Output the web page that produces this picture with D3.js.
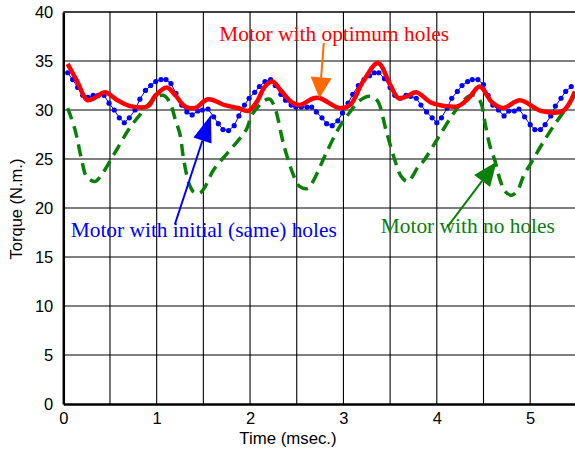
<!DOCTYPE html>
<html>
<head>
<meta charset="utf-8">
<script src="https://cdn.jsdelivr.net/npm/d3@7"></script>
<style>
  body { margin: 0; background: #fff; }
  .tick text { font-family: "Liberation Sans", Arial, sans-serif; }
  .note { font-family: "Liberation Serif", "Times New Roman", serif; font-size: 21.4px; }
</style>
</head>
<body>
<div id="chart"></div>
<script>
// values (time in msec, torque in N.m.)
const blueTime = [0.047,0.10,0.154,0.208,0.264,0.321,0.375,0.436,0.49,0.546,0.60,0.653,0.707,0.768,0.82,0.88,0.936,0.99,1.046,1.10,1.153,1.207,1.268,1.324,1.38,1.44,1.49,1.55,1.61,1.66,1.71,1.77,1.83,1.88,1.94,1.99,2.05,2.10,2.16,2.22,2.27,2.33,2.38,2.44,2.49,2.55,2.61,2.66,2.71,2.77,2.82,2.88,2.94,2.99,3.05,3.10,3.16,3.22,3.28,3.33,3.38,3.44,3.50,3.55,3.61,3.67,3.72,3.78,3.83,3.89,3.95,4.00,4.05,4.11,4.16,4.22,4.27,4.33,4.38,4.44,4.50,4.55,4.60,4.66,4.72,4.77,4.83,4.88,4.94,5.00,5.05,5.11,5.16,5.22,5.27,5.33,5.38,5.44];
const blueTorque = [33.8,33.1,32.3,31.5,31.3,31.5,31.5,31.5,30.7,30.0,29.2,28.7,29.2,30.0,31.1,32.0,32.5,32.9,33.1,33.1,32.7,31.7,30.5,29.8,29.5,29.9,30.0,30.1,29.3,28.6,28.0,27.9,28.4,29.4,30.5,31.2,31.8,32.4,32.9,33.1,32.5,31.6,31.0,30.5,30.3,30.3,30.3,30.3,29.8,29.2,28.6,28.4,28.9,29.7,30.7,31.6,32.5,33.1,33.5,33.8,33.8,33.2,32.3,31.5,31.2,31.5,31.4,31.2,30.5,29.8,29.2,28.7,29.2,30.2,31.2,31.9,32.5,32.9,33.1,33.1,32.6,31.5,30.5,30.0,29.4,29.9,29.9,30.1,29.3,28.5,28.0,28.0,28.5,29.4,30.4,31.2,31.9,32.4];

const redTime = [0.047,0.15,0.257,0.35,0.446,0.58,0.714,0.91,0.98,1.107,1.2,1.30,1.41,1.55,1.73,1.87,1.98,2.07,2.16,2.24,2.33,2.445,2.53,2.68,2.75,2.96,3.07,3.21,3.37,3.50,3.59,3.68,3.78,3.93,4.03,4.23,4.34,4.46,4.59,4.71,4.89,5.12,5.35,5.48];
const redTorque = [34.7,32.9,31.0,31.3,31.8,31.0,30.4,30.4,31.4,32.3,31.5,30.4,30.2,31.1,30.5,30.2,29.9,30.8,32.4,32.9,32.0,30.8,30.5,31.2,31.2,30.2,30.5,32.9,34.8,32.6,31.2,31.4,31.8,30.8,30.5,30.4,31.2,32.4,30.8,30.2,31.0,29.9,29.9,31.9];

const greenTime = [0.047,0.125,0.197,0.25,0.34,0.41,0.55,0.70,0.82,0.98,1.07,1.14,1.20,1.25,1.29,1.35,1.40,1.46,1.52,1.61,1.785,1.96,2.02,2.16,2.21,2.26,2.37,2.48,2.53,2.62,2.69,2.82,2.96,3.07,3.18,3.28,3.36,3.46,3.55,3.62,3.69,3.80,3.85,4.03,4.19,4.34,4.41,4.47,4.52,4.57,4.62,4.68,4.73,4.80,4.86,4.93,5.01,5.12,5.26,5.41,5.48];
const greenTorque = [30.2,28.0,24.9,23.2,22.7,23.4,25.6,28.0,29.5,31.2,31.5,30.8,29.0,27.5,24.9,22.4,21.6,21.5,22.2,23.9,25.9,28.0,29.5,31.0,31.1,30.4,26.1,23.0,22.2,22.0,23.0,25.7,28.3,29.8,31.0,31.4,31.0,27.8,24.9,23.2,22.7,24.2,24.7,27.4,29.8,31.4,31.5,30.8,28.5,26.3,24.9,22.8,21.7,21.3,21.7,23.3,24.6,26.4,28.5,30.5,31.6];

const xTicks = [0, 1, 2, 3, 4, 5];
const yTicks = [0, 5, 10, 15, 20, 25, 30, 35, 40];
const xGrid = [0.5, 1, 1.5, 2, 2.5, 3, 3.5, 4, 4.5, 5];
const yGrid = [5, 10, 15, 20, 25, 30, 35, 40];

const W = 575, H = 450;
const svg = d3.select("#chart").append("svg")
  .attr("width", W).attr("height", H);

const x = d3.scaleLinear().domain([0, 5.48]).range([63.3, 575]);
const y = d3.scaleLinear().domain([0, 40]).range([404, 12]);

// grid
svg.append("g").selectAll("line").data(xGrid).enter().append("line")
  .attr("x1", d => x(d)).attr("x2", d => x(d))
  .attr("y1", y(0)).attr("y2", y(40))
  .attr("stroke", "#000").attr("stroke-width", 1.1);
svg.append("g").selectAll("line").data(yGrid).enter().append("line")
  .attr("x1", x(0)).attr("x2", W)
  .attr("y1", d => y(d)).attr("y2", d => y(d))
  .attr("stroke", "#000").attr("stroke-width", d => d == 40 ? 1.5 : 1.1);

// axes
const xAxis = svg.append("g").attr("transform", `translate(0,${y(0)})`)
  .call(d3.axisBottom(x).tickValues(xTicks).tickFormat(d3.format("d")).tickSize(0).tickSizeOuter(0).tickPadding(8));
const yAxis = svg.append("g").attr("transform", `translate(${x(0)},0)`)
  .call(d3.axisLeft(y).tickValues(yTicks).tickSize(0).tickSizeOuter(0).tickPadding(10));
[xAxis, yAxis].forEach(a => {
  a.select(".domain").attr("stroke", "#000").attr("stroke-width", 2.5);
  a.selectAll("text").attr("font-size", 16.5).attr("fill", "#000");
});

svg.append("text")
  .attr("x", 288).attr("y", 444)
  .attr("text-anchor", "middle")
  .attr("font-family", "Liberation Sans, Arial, sans-serif")
  .attr("font-size", 16.8)
  .text("Time (msec.)");
svg.append("text")
  .attr("transform", "translate(22,209) rotate(-90)")
  .attr("text-anchor", "middle")
  .attr("font-family", "Liberation Sans, Arial, sans-serif")
  .attr("font-size", 16.5)
  .text("Torque (N.m.)");

// series
const plot = svg.append("g");
const green = greenTime.map((t, i) => [t, greenTorque[i]]);
const blue = blueTime.map((t, i) => [t, blueTorque[i]]);
const red = redTime.map((t, i) => [t, redTorque[i]]);

const smooth = d3.line().x(d => x(d[0])).y(d => y(d[1])).curve(d3.curveCatmullRom.alpha(0.5));
const straight = d3.line().x(d => x(d[0])).y(d => y(d[1]));

plot.append("path").datum(green)
  .attr("d", smooth)
  .attr("fill", "none").attr("stroke", "#0a800a")
  .attr("stroke-width", 3.5).attr("stroke-dasharray", "12,7");

plot.append("path").datum(blue)
  .attr("d", straight)
  .attr("fill", "none").attr("stroke", "#0000ff").attr("stroke-width", 1);
plot.selectAll("circle").data(blue).enter().append("circle")
  .attr("cx", d => x(d[0])).attr("cy", d => y(d[1]))
  .attr("r", 2.6).attr("fill", "#0000ff");

plot.append("path").datum(red)
  .attr("d", smooth)
  .attr("fill", "none").attr("stroke", "#ff0000").attr("stroke-width", 4.5)
  .attr("stroke-linejoin", "round");

// annotations: arrow from [t,v] to tip [t,v]
function arrow(from, to, color, len, half) {
  const x1 = x(from[0]), y1 = y(from[1]), x2 = x(to[0]), y2 = y(to[1]);
  const a = Math.atan2(y2 - y1, x2 - x1);
  const bx = x2 - len * Math.cos(a), by = y2 - len * Math.sin(a);
  svg.append("line")
    .attr("x1", x1).attr("y1", y1).attr("x2", bx).attr("y2", by)
    .attr("stroke", color).attr("stroke-width", 2);
  const px = -Math.sin(a) * half, py = Math.cos(a) * half;
  svg.append("polygon")
    .attr("points", [[x2, y2], [bx + px, by + py], [bx - px, by - py]].map(p => p.join(",")).join(" "))
    .attr("fill", color);
}
arrow([2.79, 36.84], [2.743, 31.2], "#ff6a00", 21, 10.5);
arrow([1.196, 18.37], [1.581, 29.5], "#0000ff", 27, 9.5);
arrow([4.116, 18.09], [4.64, 24.72], "#0a800a", 24, 10);

svg.append("text").attr("class", "note")
  .attr("x", x(1.67)).attr("y", y(37.04)).attr("fill", "#ff0000")
  .text("Motor with optimum holes");
svg.append("text").attr("class", "note")
  .attr("x", x(0.079)).attr("y", y(17.07)).attr("fill", "#0000ff")
  .text("Motor with initial (same) holes");
svg.append("text").attr("class", "note")
  .attr("x", x(3.40)).attr("y", y(17.45)).attr("fill", "#0a800a")
  .text("Motor with no holes");
</script>
</body>
</html>
